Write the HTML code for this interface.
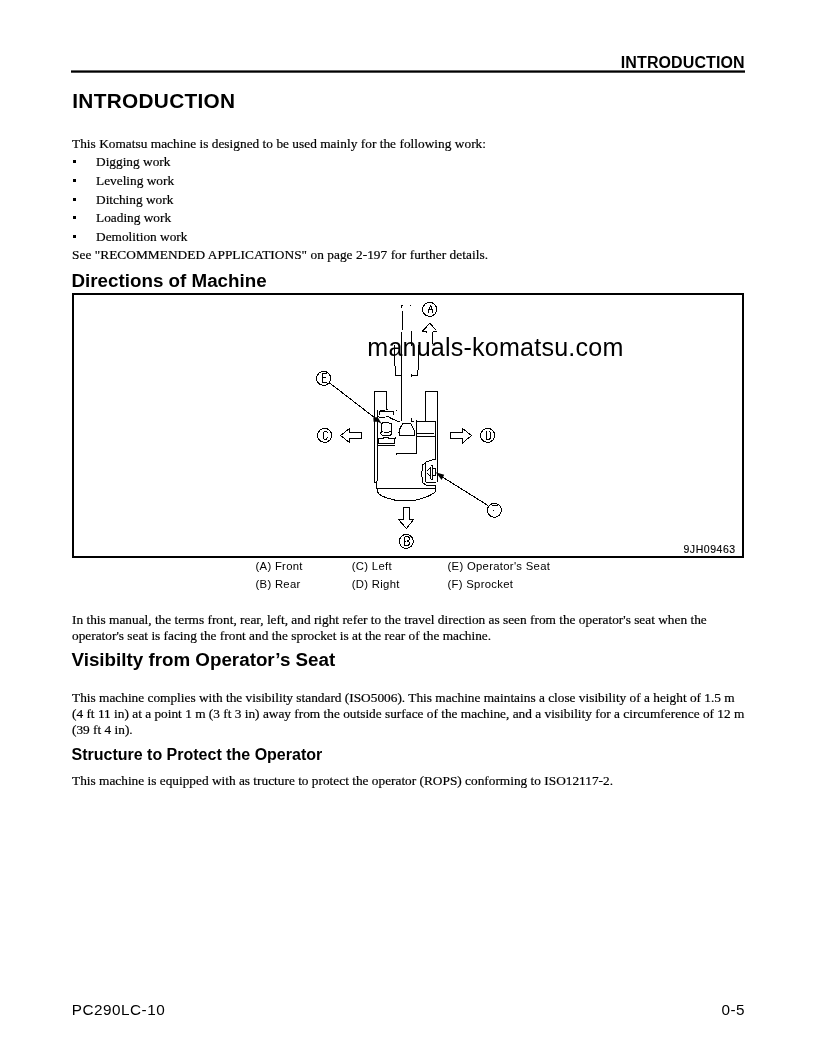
<!DOCTYPE html>
<html>
<head>
<meta charset="utf-8">
<title>INTRODUCTION</title>
<style>
html,body{margin:0;padding:0;background:#fff;}
body{width:816px;height:1056px;overflow:hidden;font-family:"Liberation Sans",sans-serif;}
svg{display:block;position:absolute;left:0;top:0;will-change:transform;}
.sb{font-family:"Liberation Sans",sans-serif;font-weight:bold;fill:#000;}
.sr{font-family:"Liberation Sans",sans-serif;fill:#000;}
.tr{font-family:"Liberation Serif",serif;font-size:13.33px;fill:#000;stroke:#000;stroke-width:0.2px;}
.ln{fill:none;stroke:#000;stroke-width:1;shape-rendering:crispEdges;}
.dg{fill:none;stroke:#000;stroke-width:1;}
</style>
</head>
<body>
<svg width="816" height="1056" viewBox="0 0 816 1056">
<!-- header -->
<text class="sb" x="744.7" y="67.5" font-size="16" letter-spacing="0.1" text-anchor="end">INTRODUCTION</text>
<rect x="71" y="70.4" width="674" height="2.3" fill="#000"/>
<text class="sb" x="72.3" y="107.5" font-size="20.8" letter-spacing="0.3">INTRODUCTION</text>

<!-- intro text -->
<text class="tr" x="72" y="147.5" textLength="414">This Komatsu machine is designed to be used mainly for the following work:</text>
<rect x="73" y="160" width="3" height="3" fill="#000"/>
<text class="tr" x="96" y="166">Digging work</text>
<rect x="73" y="179" width="3" height="3" fill="#000"/>
<text class="tr" x="96" y="184.7">Leveling work</text>
<rect x="73" y="198" width="3" height="3" fill="#000"/>
<text class="tr" x="96" y="203.7">Ditching work</text>
<rect x="73" y="216" width="3" height="3" fill="#000"/>
<text class="tr" x="96" y="222">Loading work</text>
<rect x="73" y="235" width="3" height="3" fill="#000"/>
<text class="tr" x="96" y="240.9">Demolition work</text>
<text class="tr" x="72" y="259.4" textLength="416">See "RECOMMENDED APPLICATIONS" on page 2-197 for further details.</text>

<text class="sb" x="71.5" y="286.7" font-size="18.8">Directions of Machine</text>

<!-- figure box -->
<rect x="73" y="294" width="670" height="263" fill="none" stroke="#000" stroke-width="2" shape-rendering="crispEdges"/>
<text class="sr" x="683.5" y="552.8" font-size="10.5" textLength="51.6" stroke="#000" stroke-width="0.15">9JH09463</text>

<!-- DIAGRAM -->
<g id="diagram" class="ln">
<!-- boom -->
<path d="M401.5 305.5H403 M401.5 305V308 M402.5 311V330 M401.5 331.5V421"/>
<path d="M410 305.5h1"/>
<path d="M411.5 331V346"/>
<!-- bucket -->
<path d="M394.5 345V365.5 M395.5 365.5V375.5H401.5"/>
<path d="M418.5 345V369.5 M417.5 369.5V375.5H411.5 M411.5 374V377"/>
<!-- arrow A partial -->
<path class="dg" d="M422.4 331.3L429.8 323.2L436 330"/>
<path d="M422 331.5H427 M426.5 332V333 M432.5 331.5H437 M432.5 331.5V344"/>
<!-- left track -->
<path d="M374.5 482.5V391.5H386.5V409.5H388"/>
<path d="M377.5 410V481"/>
<path d="M374.5 482.5H376.5 M376.5 481V488.5"/>
<!-- right track -->
<path d="M425.5 420.5V391.5H437.5V481.5"/>
<path d="M435.5 421.5V459"/>
<!-- right box -->
<path d="M416.5 436.5V421.5H435.5 M416.5 433.5H434 M416.5 436.5H435.5"/>
<path d="M416.5 436.5V453.5H396.5 M396.5 452.5V454.5"/>
<path d="M411.5 418V421.5H414 M415.5 420.5h1"/>
<!-- trapezoid -->
<path class="dg" d="M402.7 423.4H410.6L414.5 430.8V435.5H399.5V429.5L402.7 423.4 M398 432.5h1.5"/>
<!-- seat -->
<path class="dg" d="M383.2 422.4H388.9L389.4 423.5H391.5V430.8 M383.2 422.4L381.6 424V431.4H382.8 M381.6 431.6L380.2 433.5L382.4 435.4H390.4L391.5 434V431.6 M389.3 431.4H391.5 M384.2 432.5H389"/>
<!-- upper bracket -->
<path d="M379.5 415V411.5H393.5V415 M380 410.5H385 M395.5 410.5h1"/>
<path class="dg" d="M378 416.4L379.5 417.4H385 M386 416.4H387.5L393.5 419.5L400 422"/>
<!-- lower box -->
<path d="M378.5 443.5V438.5H383.5V437.5H388V438.5H394.5V443.5H378.5 M395.5 437V439 M378 445.5H395"/>
<!-- bottom -->
<path d="M376.5 488.5H435.5"/>
<path class="dg" d="M377.3 488.5V491.5Q378 494 382 496Q386 497.8 390.3 498.9L396 500.4H414.6L420.1 498.9Q425 497.5 429.5 495.6Q434 493.5 435.5 491.4V488.5"/>
<path d="M435.5 485.5V488.5"/>
<!-- sprocket housing -->
<path class="dg" d="M435.5 459L430.2 460.4L425.5 462.3L422.4 465.3V470.5L421.4 471.2V476.6L422.4 477.2V482.3L426.4 485.4H435.5"/>
<path d="M425.5 463V481.5 M426 482.5H436"/>
<path d="M430.5 467V479 M432.5 465V480 M431 465.5H433 M431 479.5H433 M432.5 468.5H435.5V475.5H432.5"/>
<path class="dg" d="M430.3 467.5L427.2 471 M427.2 473.3L430.3 476.5"/>
<!-- arrow C -->
<path class="dg" d="M340.5 435.5L349.5 428.5V432.5H361.5V438.5H349.5V442.5Z"/>
<!-- arrow D -->
<path class="dg" d="M471.5 435.5L462.5 428.5V432.5H450.5V438.5H462.5V443Z"/>
<!-- arrow B -->
<path class="dg" d="M406.5 528.5L398.5 519.5H403.5V507.5H409.5V519.5H413.5Z"/>
<!-- leader E -->
<path class="dg" d="M329.4 382.8L375 418"/>
<path d="M373.3 417.2H377.8L381.6 423.8L377.8 421.8H373.6Z" style="fill:#000;stroke:none;shape-rendering:auto"/>
<!-- leader F -->
<path class="dg" d="M488 505.5L440 475.5"/>
<path d="M435.5 472.2L444.2 474.8L441.6 480L437.5 474.5Z" style="fill:#000;stroke:none;shape-rendering:auto"/>
<!-- circles -->
<circle class="dg" cx="429.6" cy="309.4" r="7"/>
<circle class="dg" cx="323.6" cy="378.4" r="7"/>
<circle class="dg" cx="324.6" cy="435.4" r="7"/>
<circle class="dg" cx="487.6" cy="435.4" r="7"/>
<circle class="dg" cx="494.4" cy="510.3" r="7"/>
<circle class="dg" cx="406.3" cy="541.4" r="7"/>
<path d="M492 505.5H498 M493 510.5h1"/>
<!-- letters -->
<path class="dg" d="M428.5 313V309.9H432.5 M429.6 309.5L430.2 305.6H431L432.7 313"/>
<path class="dg" d="M326.6 373.5H322.5V382.2H327 M322.5 377.6H326"/>
<path class="dg" d="M327.5 433V432.2L326.5 431.5H324.5L323.5 432.5V438.3L324.5 439.3H326.2L327.5 437"/>
<path class="dg" d="M486.5 431V439.3H489L490.5 438V432.5L489.3 431"/>
<path class="dg" d="M404.5 536.5V545.3H408L409.7 544V542.4L407.3 541L409.7 539.6V538L408 536.5H404.5 M404.5 541H406"/>
</g>

<!-- watermark -->
<text class="sr" x="367.3" y="355.6" font-size="25.1" letter-spacing="0.2">manuals-komatsu.com</text>

<!-- legend -->
<text class="sr" x="255.5" y="569.6" font-size="11.3" letter-spacing="0.3">(A) Front</text>
<text class="sr" x="255.5" y="587.9" font-size="11.3" letter-spacing="0.3">(B) Rear</text>
<text class="sr" x="351.8" y="569.6" font-size="11.3" letter-spacing="0.3">(C) Left</text>
<text class="sr" x="351.8" y="587.9" font-size="11.3" letter-spacing="0.3">(D) Right</text>
<text class="sr" x="447.5" y="569.6" font-size="11.3" letter-spacing="0.3">(E) Operator's Seat</text>
<text class="sr" x="447.5" y="587.9" font-size="11.3" letter-spacing="0.3">(F) Sprocket</text>

<text class="tr" x="72" y="623.8">In this manual, the terms front, rear, left, and right refer to the travel direction as seen from the operator's seat when the</text>
<text class="tr" x="72" y="639.7">operator's seat is facing the front and the sprocket is at the rear of the machine.</text>

<text class="sb" x="71.5" y="666.3" font-size="18.8">Visibilty from Operator’s Seat</text>

<text class="tr" x="72" y="702">This machine complies with the visibility standard (ISO5006). This machine maintains a close visibility of a height of 1.5 m</text>
<text class="tr" x="72" y="718">(4 ft 11 in) at a point 1 m (3 ft 3 in) away from the outside surface of the machine, and a visibility for a circumference of 12 m</text>
<text class="tr" x="72" y="734">(39 ft 4 in).</text>

<text class="sb" x="71.5" y="759.5" font-size="16">Structure to Protect the Operator</text>

<text class="tr" x="72" y="784.8">This machine is equipped with as tructure to protect the operator (ROPS) conforming to ISO12117-2.</text>

<!-- footer -->
<text class="sr" x="71.8" y="1015" font-size="15.3" letter-spacing="0.5">PC290LC-10</text>
<text class="sr" x="745" y="1015" font-size="15.3" letter-spacing="0.5" text-anchor="end">0-5</text>
</svg>
</body>
</html>
